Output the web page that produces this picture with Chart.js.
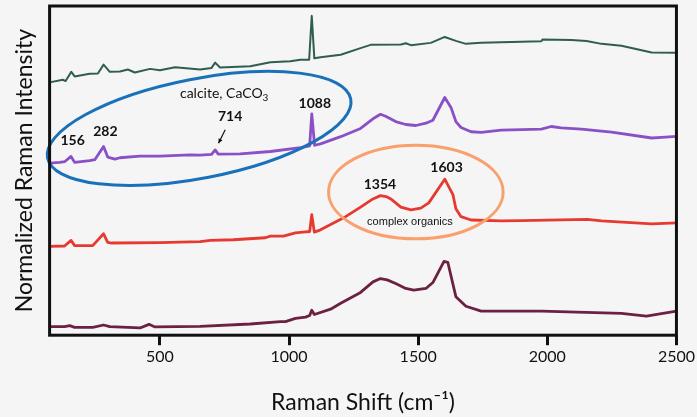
<!DOCTYPE html>
<html><head><meta charset="utf-8">
<script src="https://cdn.jsdelivr.net/npm/chart.js@4.4.1/dist/chart.umd.min.js"></script>
<style>html,body{margin:0;padding:0;background:#f5f5f5;overflow:hidden}</style>
</head><body>
<canvas id="c" width="697" height="417"></canvas>
<script>
// ---- data (Raman shift in cm^-1, normalized intensity with vertical offsets) ----
const greenShift = [73,124,135,157,170,228,260,282,306,345,376,403,462,500,559,656,700,714,733,850,928,1005,1044,1078,1088,1098,1122,1200,1277,1316,1433,1452,1472,1549,1603,1646,1685,1744,1860,1977,1981,2093,2152,2210,2287,2404,2500];
const greenIntensity = [76.8,77.6,77.2,80.0,78.6,79.4,79.5,82.2,80.0,80.1,80.7,79.8,80.9,80.5,81.4,80.7,81.2,82.8,81.3,81.7,82.9,83.2,83.7,83.7,97.0,84.1,84.4,85.2,87.2,88.2,88.3,88.7,88.1,88.8,90.6,89.4,88.5,88.8,89.1,89.3,89.8,89.7,89.4,88.5,87.9,85.9,85.8];

const purpleShift = [73,112,131,156,170,228,248,282,298,326,345,423,500,617,656,700,714,726,811,928,1044,1080,1088,1099,1122,1200,1277,1330,1354,1374,1413,1452,1491,1530,1557,1603,1627,1646,1666,1705,1744,1821,1977,2015,2054,2132,2249,2404,2443,2500];
const purpleIntensity = [52.3,52.5,52.7,54.3,52.5,53.0,53.3,57.3,54.1,53.5,53.9,54.4,54.4,54.8,54.7,54.9,56.3,55.0,55.1,55.8,57.0,57.5,67.2,57.7,58.1,60.3,62.8,66.0,67.1,66.5,64.9,64.0,63.7,64.4,65.3,72.2,69.2,64.9,63.1,61.8,61.6,62.3,62.6,63.4,63.0,62.6,61.7,59.9,60.1,60.4];

const redShift = [73,131,156,170,240,282,298,314,500,656,695,784,908,928,978,1025,1064,1080,1088,1098,1122,1219,1277,1325,1354,1380,1394,1433,1472,1510,1541,1603,1635,1646,1666,1705,1821,1899,2155,2210,2404,2500];
const redIntensity = [27.0,27.1,28.8,27.2,27.2,30.8,28.2,28.0,28.1,28.4,28.8,29.0,29.6,30.1,30.1,31.1,31.4,31.5,36.6,31.3,32.0,36.0,38.9,41.4,42.4,42.0,41.4,38.9,38.1,38.6,40.2,47.4,42.6,38.4,36.0,35.0,34.7,34.8,35.2,34.7,33.8,34.1];

const maroonShift = [73,131,151,170,240,282,306,423,458,481,656,850,967,986,1025,1064,1080,1088,1098,1161,1200,1277,1325,1354,1380,1413,1452,1483,1530,1557,1600,1615,1646,1685,1744,1977,2287,2384,2500];
const maroonIntensity = [2.6,2.6,2.9,2.4,2.4,3.1,2.6,2.2,3.3,2.5,2.7,3.4,4.1,4.1,5.1,5.5,6.0,7.6,6.3,7.9,9.7,13.0,16.2,17.2,16.8,15.7,14.2,13.7,14.2,16.0,22.4,22.1,11.7,8.8,7.3,7.3,6.6,5.8,7.3];

const xTicks = [500,1000,1500,2000,2500];
const peakLabels = ['156','282','714','1088','1354','1603'];

function pts(xs, ys){ return xs.map((x,i)=>({x:x, y:ys[i]})); }

function ds(xs, ys, color, w){
  return {data: pts(xs, ys), borderColor: color, borderWidth: w, pointRadius: 0,
          fill: false, tension: 0, borderJoinStyle: 'round', borderCapStyle: 'round'};
}

const FONT = 'Lato, "Open Sans", sans-serif';

const annot = {
  id: 'annot',
  afterDatasetsDraw(chart){
    const ctx = chart.ctx, xs = chart.scales.x, ys = chart.scales.y, a = chart.chartArea;
    const X = v => xs.getPixelForValue(v), Y = v => ys.getPixelForValue(v);
    ctx.save();
    function ell(cx, cy, rxU, ryU, rot, color){
      const px = X(cx), py = Y(cy);
      const rx = Math.abs(X(cx + rxU) - px), ry = Math.abs(Y(cy + ryU) - py);
      ctx.beginPath(); ctx.ellipse(px, py, rx, ry, rot*Math.PI/180, 0, 2*Math.PI);
      ctx.strokeStyle = color; ctx.lineWidth = 3; ctx.stroke();
    }
    ell(652, 62.8, 598, 15.1, -11, '#1b71b9');
    ell(1491, 43.5, 338, 14.2, 0, '#f9a06e');
    ctx.fillStyle = '#111';
    ctx.textAlign = 'center'; ctx.textBaseline = 'middle';
    ctx.font = 'bold 14px ' + FONT;
    const lp = [[162,59.2],[289,61.8],[772,66.3],[1100,70.4],[1352,45.9],[1610,51.0]];
    peakLabels.forEach((t,i)=> ctx.fillText(t, X(lp[i][0]), Y(lp[i][1])));
    ctx.font = '14px ' + FONT;
    ctx.textAlign = 'left';
    const main = 'calcite, CaCO';
    const w = ctx.measureText(main).width;
    ctx.font = '10px ' + FONT;
    const w3 = ctx.measureText('3').width;
    const sx = X(749) - (w + w3)/2, sy = Y(73.4);
    ctx.font = '14px ' + FONT;
    ctx.fillText(main, sx, sy);
    ctx.font = '10px ' + FONT;
    ctx.fillText('3', sx + w, sy + 4);
    ctx.textAlign = 'center';
    ctx.font = '11px "Liberation Sans", Arial, sans-serif';
    ctx.fillText('complex organics', X(1468), Y(34.4));
    const x1 = X(753), y1 = Y(62.4), x2 = X(727), y2 = Y(58.3);
    ctx.strokeStyle = '#111'; ctx.lineWidth = 1.2;
    ctx.beginPath(); ctx.moveTo(x1, y1); ctx.lineTo(x2, y2); ctx.stroke();
    const ang = Math.atan2(y2 - y1, x2 - x1), L = 5;
    ctx.beginPath(); ctx.moveTo(x2, y2);
    ctx.lineTo(x2 - L*Math.cos(ang - 0.45), y2 - L*Math.sin(ang - 0.45));
    ctx.lineTo(x2 - L*Math.cos(ang + 0.45), y2 - L*Math.sin(ang + 0.45));
    ctx.closePath(); ctx.fillStyle = '#111'; ctx.fill();
    ctx.strokeStyle = '#111'; ctx.lineWidth = 3;
    ctx.strokeRect(a.left, a.top, a.right - a.left, a.bottom - a.top);
    ctx.restore();
  }
};

new Chart(document.getElementById('c'), {
  type: 'line',
  data: { datasets: [
    ds(greenShift, greenIntensity, '#2f5d4f', 2),
    ds(purpleShift, purpleIntensity, '#8a50c6', 2.8),
    ds(redShift, redIntensity, '#e63a30', 2.8),
    ds(maroonShift, maroonIntensity, '#6d2142', 2.8)
  ]},
  options: {
    responsive: false, animation: false,
    layout: { padding: { left: 0, right: 20, top: 6, bottom: 0 } },
    plugins: { legend: { display: false }, tooltip: { enabled: false } },
    scales: {
      x: {
        type: 'linear', min: 73, max: 2500,
        afterBuildTicks: s => { s.ticks = xTicks.map(v => ({value: v})); },
        grid: { display: true, drawOnChartArea: false, drawTicks: true, tickLength: 10, tickWidth: 3, tickColor: '#111' },
        border: { display: false },
        ticks: { padding: 2, color: '#111', font: { family: FONT, size: 16 }, callback: v => String(v) },
        title: { display: true, text: 'Raman Shift (cm\u207B\u00B9)', color: '#111',
                 font: { family: FONT, size: 23 }, padding: { top: 20, bottom: 1 } }
      },
      y: {
        type: 'linear', min: 0, max: 100,
        grid: { display: false, drawTicks: false },
        border: { display: false },
        ticks: { display: false },
        title: { display: true, text: 'Normalized Raman Intensity', color: '#111',
                 font: { family: FONT, size: 23 }, padding: { top: 11, bottom: 11 } }
      }
    }
  },
  plugins: [annot]
});
</script>
</body></html>
